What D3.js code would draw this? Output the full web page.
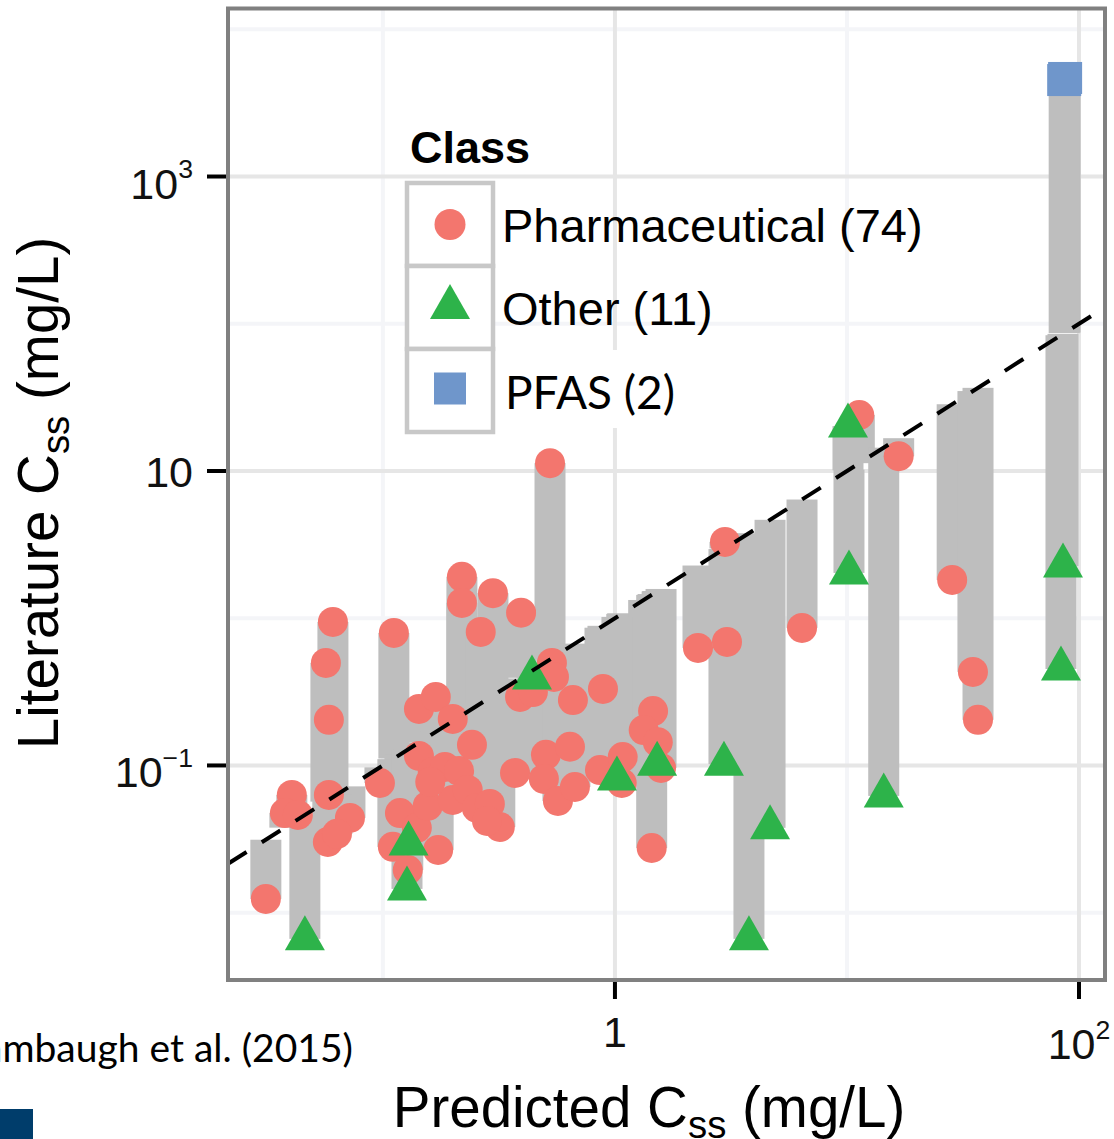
<!DOCTYPE html>
<html>
<head>
<meta charset="utf-8">
<script src="https://cdn.jsdelivr.net/npm/d3@7"></script>
<style>
  body { margin: 0; background: #fff; }
  svg text { font-family: "Liberation Sans", Arimo, Arial, sans-serif; white-space: pre; }
</style>
</head>
<body>
<div id="container"></div>
<script>
// predicted Css (x) and literature Css (y), mg/L, one entry per point
const pharmaPred = [
  0.0313, 0.0405, 0.0378, 0.0430, 0.0609, 0.0568, 0.0585, 0.0585, 0.0721, 0.0579,
  0.0634, 0.0971, 0.1115, 0.1184, 0.1104, 0.140, 0.128, 0.173, 0.143, 0.164,
  0.185, 0.213, 0.156, 0.200, 0.232, 0.254, 0.289, 0.319, 0.281, 0.143,
  0.169, 0.200, 0.242, 0.219, 0.219, 0.298, 0.264, 0.394, 0.525, 0.535,
  0.546, 0.390, 0.443, 0.659, 0.888, 0.371, 0.504, 0.640, 0.494, 0.568,
  0.672, 0.862, 1.08, 1.07, 1.46, 1.33, 1.53, 1.58, 1.44, 2.28,
  3.04, 2.98, 6.40, 11.3, 16.7, 28.4, 34.9, 36.7, 0.160
];
const pharmaLit = [
  0.0124, 0.0631, 0.0475, 0.0461, 0.944, 0.497, 0.204, 0.0631, 0.0440, 0.0302,
  0.0343, 0.0760, 0.794, 0.0475, 0.0280, 0.0377, 0.0195, 0.0267, 0.116, 0.0904,
  0.0977, 0.0918, 0.0531, 0.0583, 0.0682, 0.0514, 0.0548, 0.0382, 0.0420, 0.242,
  0.292, 0.207, 0.138, 1.91, 1.27, 1.48, 0.807, 1.09, 11.3, 0.497,
  0.399, 0.292, 0.315, 0.278, 0.331, 0.0889, 0.118, 0.134, 0.0810, 0.0574,
  0.0714, 0.0931, 0.114, 0.0760, 0.234, 0.174, 0.144, 0.0962, 0.0275, 0.628,
  0.690, 3.30, 0.859, 24.0, 12.6, 1.82, 0.432, 0.204, 0.0773
];
const otherPred = [0.0461, 0.129, 0.127, 0.439, 1.02, 1.52, 2.95, 3.78, 4.66, 10.1, 10.2, 14.4, 85.3, 83.6];
const otherLit = [0.00664, 0.0293, 0.0145, 0.393, 0.0810, 0.102, 0.102, 0.00664, 0.0377, 20.2, 2.03, 0.0621, 2.26, 0.452];
const pfasPred = [87.1, 86.3];
const pfasLit = [4670, 4520];

const xLim = [0.0215, 129.4];
const yLim = [0.00349, 13840];
const xMajor = [1, 100];
const xMinor = [0.1, 10];
const yMajor = [0.1, 10, 1000];
const yMinor = [0.01, 1, 100, 10000];
const xTickLabels = ["1", "10^2"];
const yTickLabels = ["10^\u22121", "10", "10^3"];
const xTitle = ["Predicted C", "ss", " (mg/L)"];
const yTitle = ["Literature C", "ss", " (mg/L)"];
const legendTitle = "Class";
const legendLabels = ["Pharmaceutical (74)", "Other (11)", "PFAS (2)"];
const citation = "Wambaugh et al. (2015)";

const colors = {
  pharma: "#f3766e",
  other: "#2db34a",
  pfas: "#6f96cb",
  bar: "#bebebe",
};

const w = 1114;
const h = 1139;
const panel = { left: 228, right: 1105, top: 8.5, bottom: 980 };

const points = [
  ...pharmaPred.map((p, i) => ({ pred: p, lit: pharmaLit[i], cls: "pharma" })),
  ...otherPred.map((p, i) => ({ pred: p, lit: otherLit[i], cls: "other" })),
  ...pfasPred.map((p, i) => ({ pred: p, lit: pfasLit[i], cls: "pfas" })),
];

const x = d3.scaleLog().domain(xLim).range([panel.left, panel.right]);
const y = d3.scaleLog().domain(yLim).range([panel.bottom, panel.top]);

const svg = d3
  .select("#container")
  .append("svg")
  .attr("width", w)
  .attr("height", h);

svg.append("rect").attr("width", w).attr("height", h).attr("fill", "#fff");

svg
  .append("clipPath")
  .attr("id", "clip")
  .append("rect")
  .attr("x", panel.left)
  .attr("y", panel.top)
  .attr("width", panel.right - panel.left)
  .attr("height", panel.bottom - panel.top);

const plot = svg.append("g").attr("clip-path", "url(#clip)");

// grid
function vGrid(vals, color) {
  plot
    .append("g")
    .selectAll("line")
    .data(vals)
    .enter()
    .append("line")
    .attr("x1", (d) => x(d))
    .attr("x2", (d) => x(d))
    .attr("y1", panel.top)
    .attr("y2", panel.bottom)
    .attr("stroke", color)
    .attr("stroke-width", 4);
}
function hGrid(vals, color) {
  plot
    .append("g")
    .selectAll("line")
    .data(vals)
    .enter()
    .append("line")
    .attr("x1", panel.left)
    .attr("x2", panel.right)
    .attr("y1", (d) => y(d))
    .attr("y2", (d) => y(d))
    .attr("stroke", color)
    .attr("stroke-width", 4);
}
vGrid(xMinor, "#f4f5f8");
hGrid(yMinor, "#f4f5f8");
vGrid(xMajor, "#e6e6e6");
hGrid(yMajor, "#e6e6e6");

// bars from the 1:1 line to each literature value
const barW = 31;
plot
  .append("g")
  .selectAll("rect")
  .data(points)
  .enter()
  .append("rect")
  .attr("x", (d) => x(d.pred) - barW / 2)
  .attr("y", (d) => Math.min(y(d.pred), y(d.lit)))
  .attr("width", barW)
  .attr("height", (d) => Math.abs(y(d.pred) - y(d.lit)))
  .attr("fill", colors.bar);

// points
const triPath = (cx, cy) =>
  `M${cx},${cy - 23.5}L${cx + 20},${cy + 11.5}L${cx - 20},${cy + 11.5}Z`;

plot
  .append("g")
  .selectAll("circle")
  .data(points.filter((d) => d.cls == "pharma"))
  .enter()
  .append("circle")
  .attr("cx", (d) => x(d.pred))
  .attr("cy", (d) => y(d.lit))
  .attr("r", 15)
  .attr("fill", colors.pharma);

plot
  .append("g")
  .selectAll("path")
  .data(points.filter((d) => d.cls == "other"))
  .enter()
  .append("path")
  .attr("d", (d) => triPath(x(d.pred), y(d.lit)))
  .attr("fill", colors.other);

plot
  .append("g")
  .selectAll("rect")
  .data(points.filter((d) => d.cls == "pfas"))
  .enter()
  .append("rect")
  .attr("x", (d) => x(d.pred) - 17)
  .attr("y", (d) => y(d.lit) - 16)
  .attr("width", 34)
  .attr("height", 32)
  .attr("fill", colors.pfas);

// 1:1 line
plot
  .append("line")
  .attr("x1", x(xLim[0]))
  .attr("y1", y(xLim[0]))
  .attr("x2", x(xLim[1]))
  .attr("y2", y(xLim[1]))
  .attr("stroke", "#000")
  .attr("stroke-width", 4)
  .attr("stroke-dasharray", "22,18");

// panel border
svg
  .append("rect")
  .attr("x", panel.left)
  .attr("y", panel.top)
  .attr("width", panel.right - panel.left)
  .attr("height", panel.bottom - panel.top)
  .attr("fill", "none")
  .attr("stroke", "#808080")
  .attr("stroke-width", 4);

// ticks
svg
  .append("g")
  .selectAll("line")
  .data(yMajor)
  .enter()
  .append("line")
  .attr("x1", panel.left - 21)
  .attr("x2", panel.left - 2)
  .attr("y1", (d) => y(d))
  .attr("y2", (d) => y(d))
  .attr("stroke", "#000")
  .attr("stroke-width", 4);

svg
  .append("g")
  .selectAll("line")
  .data(xMajor)
  .enter()
  .append("line")
  .attr("x1", (d) => x(d))
  .attr("x2", (d) => x(d))
  .attr("y1", panel.bottom + 2)
  .attr("y2", panel.bottom + 19)
  .attr("stroke", "#000")
  .attr("stroke-width", 4);

function powerLabel(sel, str, fs) {
  const [base, sup] = str.split("^");
  sel.append("tspan").text(base);
  if (sup) sel.append("tspan").attr("dy", -fs * 0.47).attr("font-size", fs * 0.62).text(sup);
}

const tickFs = 43;
svg
  .append("g")
  .selectAll("text")
  .data(yMajor)
  .enter()
  .append("text")
  .attr("x", 193)
  .attr("y", (d, i) => y(d) + (yTickLabels[i].includes("^") ? 22 : 16))
  .attr("text-anchor", "end")
  .attr("font-size", tickFs)
  .attr("fill", "#111")
  .each(function (d, i) {
    powerLabel(d3.select(this), yTickLabels[i], tickFs);
  });

svg
  .append("g")
  .selectAll("text")
  .data(xMajor)
  .enter()
  .append("text")
  .attr("x", (d) => x(d))
  .attr("y", (d, i) => (xTickLabels[i].includes("^") ? 1059 : 1047))
  .attr("text-anchor", "middle")
  .attr("font-size", tickFs)
  .attr("fill", "#111")
  .each(function (d, i) {
    powerLabel(d3.select(this), xTickLabels[i], tickFs);
  });

// axis titles
function subTitle(sel, parts, fs) {
  sel.append("tspan").text(parts[0]);
  sel.append("tspan").attr("font-size", fs * 0.68).attr("dy", fs * 0.2).text(parts[1]);
  sel.append("tspan").attr("dy", -fs * 0.2).text(parts[2]);
}

const titleFs = 56.5;
subTitle(
  svg
    .append("text")
    .attr("x", 649)
    .attr("y", 1127)
    .attr("text-anchor", "middle")
    .attr("font-size", titleFs),
  xTitle,
  titleFs
);

subTitle(
  svg
    .append("text")
    .attr("transform", "translate(58,493) rotate(-90)")
    .attr("text-anchor", "middle")
    .attr("font-size", titleFs),
  yTitle,
  titleFs
);

// legend
const lg = { x: 407, top: 183, keyW: 86, keyH: 83 };
const legend = svg.append("g");

legend
  .append("text")
  .attr("x", 410)
  .attr("y", 163)
  .attr("font-size", 45)
  .attr("font-weight", "bold")
  .text(legendTitle);

legend
  .selectAll("rect.key")
  .data(legendLabels)
  .enter()
  .append("rect")
  .attr("class", "key")
  .attr("x", lg.x)
  .attr("y", (d, i) => lg.top + i * lg.keyH)
  .attr("width", lg.keyW)
  .attr("height", lg.keyH)
  .attr("fill", "#fff")
  .attr("stroke", "#c8c8c8")
  .attr("stroke-width", 4.5);

const kx = lg.x + lg.keyW / 2;
const ky = (i) => lg.top + i * lg.keyH + lg.keyH / 2;

legend.append("circle").attr("cx", kx).attr("cy", ky(0)).attr("r", 15.5).attr("fill", colors.pharma);
legend.append("path").attr("d", triPath(kx, ky(1))).attr("fill", colors.other);

// PFAS entry sits on a white patch
legend
  .append("rect")
  .attr("x", 496)
  .attr("y", 350)
  .attr("width", 200)
  .attr("height", 78)
  .attr("fill", "#fff");
legend
  .append("rect")
  .attr("x", kx - 16)
  .attr("y", ky(2) - 18)
  .attr("width", 32)
  .attr("height", 32)
  .attr("fill", colors.pfas);

legend
  .selectAll("text.lab")
  .data(legendLabels.slice(0, 2))
  .enter()
  .append("text")
  .attr("class", "lab")
  .attr("x", 502)
  .attr("y", (d, i) => ky(i) + 17)
  .attr("font-size", 47)
  .text((d) => d);

legend
  .append("text")
  .attr("x", 505)
  .attr("y", 409)
  .attr("font-size", 46)
  .style("font-family", "Lato, 'Open Sans', sans-serif")
  .text(legendLabels[2]);

// source note and logo corner
svg
  .append("text")
  .attr("x", 353)
  .attr("y", 1062)
  .attr("text-anchor", "end")
  .attr("font-size", 39)
  .style("font-family", "Lato, 'Open Sans', sans-serif")
  .text(citation);

svg
  .append("rect")
  .attr("x", 0)
  .attr("y", 1109)
  .attr("width", 33)
  .attr("height", 30)
  .attr("fill", "#003d6b");
</script>
</body>
</html>
